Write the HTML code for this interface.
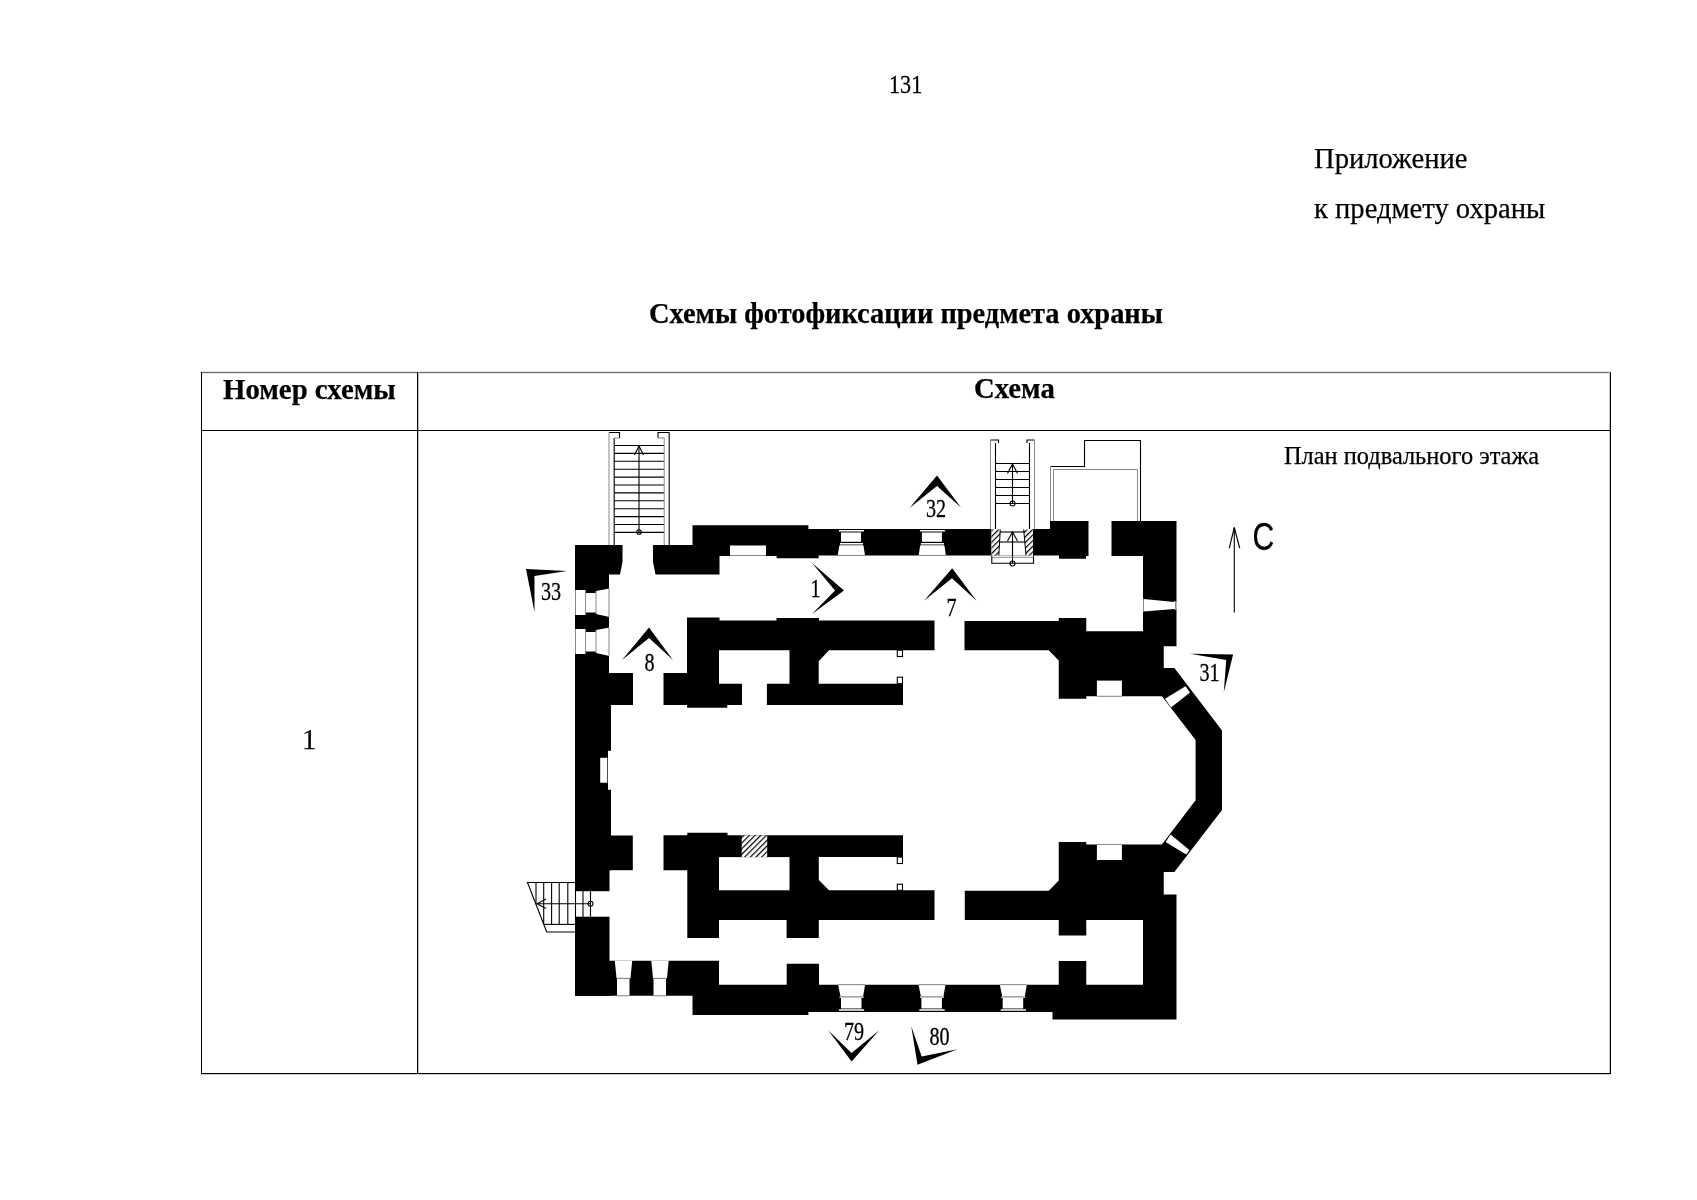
<!DOCTYPE html>
<html><head><meta charset="utf-8">
<style>
html,body{margin:0;padding:0;background:#fff;}
body{width:1697px;height:1200px;position:relative;overflow:hidden;font-family:"Liberation Serif",serif;color:#000;}
#pg{position:absolute;left:0;top:0;width:1697px;height:1200px;will-change:transform;}
.t{position:absolute;white-space:nowrap;line-height:1;-webkit-text-stroke:0.25px #000;}
</style></head><body><div id="pg">
<svg width="1697" height="1200" style="position:absolute;left:0;top:0">
<defs><pattern id="hatch" patternUnits="userSpaceOnUse" width="4" height="4" patternTransform="rotate(45)"><rect width="4" height="4" fill="#fff"/><rect x="0" y="0" width="1.2" height="4" fill="#000"/></pattern></defs>
<g shape-rendering="crispEdges">
<rect x="201" y="371" width="1410" height="1" fill="#e4e4e4"/>
<rect x="201" y="373" width="1410" height="1" fill="#e4e4e4"/>
<rect x="201" y="372" width="1410" height="1" fill="#6e6e6e"/>
<rect x="418" y="372" width="1" height="702" fill="#c0c0c0"/>
<rect x="1609" y="372" width="1" height="702" fill="#c0c0c0"/>
<rect x="201" y="1074" width="1410" height="1" fill="#d0d0d0"/>
<rect x="201" y="372" width="1" height="702" fill="#000"/>
<rect x="1610" y="372" width="1" height="702" fill="#000"/>
<rect x="201" y="1073" width="1410" height="1" fill="#000"/>
<rect x="201" y="430" width="1410" height="1" fill="#000"/>
<rect x="417" y="372" width="1" height="702" fill="#000"/>
</g>
<g fill="#000"><polygon points="575,545 622.5,545 622.5,562 620,574.5 609,574.5 609,705 611,705 611,870.2 609.5,870.2 609.5,996 575,996"/><polygon points="653,545 692.5,545 692.5,525.3 808.4,525.3 808.4,529 1050,529 1050,521 1088.5,521 1088.5,556 1086,556 1086,558.75 1059,558.75 1059,555.5 818.7,555.5 818.7,558.3 776.6,558.3 776.6,556 719.5,556 719.5,574.5 655.5,574.5 653,562"/><polygon points="1111.5,521 1176.5,521 1176.5,646.25 1163.75,646.25 1163.75,668.1 1174.4,668.1 1222,730.6 1222,810 1174.4,871.9 1163.75,871.9 1163.75,894.4 1176.5,894.4 1176.5,1019.4 1052.5,1019.4 1052.5,1011.9 808.4,1011.9 808.4,1015 692.5,1015 692.5,995.8 575,995.8 575,960.8 719,960.8 719,984.7 786.7,984.7 786.7,963.7 819,963.7 819,984.7 1058.75,984.7 1058.75,961 1086.25,961 1086.25,984.75 1143,984.75 1143,920 1086.25,920 1086.25,935.6 1058.75,935.6 1058.75,920 964.8,920 964.8,890.8 1048.75,890.8 1058.75,880.4 1058.75,841.9 1086.25,841.9 1086.25,844.4 1161.9,844.4 1195.6,800.25 1195.6,740 1161.9,696.25 1086.25,696.25 1086.25,698.75 1058.75,698.75 1058.75,660.6 1048.75,650.3 964.5,650.3 964.5,621 1058.75,621 1058.75,618.1 1086.25,618.1 1086.25,631.25 1143,631.25 1143,556 1111.5,556"/><rect x="609" y="673" width="24" height="32"/><polygon points="663.5,673 687,673 687,617.5 719.5,617.5 719.5,620.5 776.5,620.5 776.5,617.9 819,617.9 819,620.5 934.5,620.5 934.5,650.2 829,650.2 818.7,661.3 818.7,683.7 903,683.7 903,705 766.9,705 766.9,683.7 789.5,683.7 789.5,650.2 719,650.2 719,683.7 742,683.7 742,705 727.3,705 727.3,707.7 687,707.7 687,705 663.5,705"/><rect x="609" y="835.5" width="23.8" height="34.7"/><polygon points="663.5,835.3 687.3,835.3 687.3,832.8 727.5,832.8 727.5,835.3 903,835.3 903,857.1 818.8,857.1 818.8,880.1 829,890.3 934.5,890.3 934.5,920.1 818.8,920.1 818.8,938.1 786.6,938.1 786.6,920.1 719,920.1 719,938 687.3,938 687.3,870.2 663.5,870.2"/><rect x="607.5" y="750.8" width="1" height="39"/></g>
<g fill="#fff"><rect x="719" y="857.1" width="70.5" height="33.2"/><rect x="574" y="891.2" width="37" height="25.5"/><rect x="608" y="750.8" width="3.5" height="39"/><rect x="600.2" y="757.8" width="7.1" height="24.9"/><rect x="575" y="590" width="10.5" height="25"/><rect x="585.5" y="593" width="10.5" height="19.5"/><polygon points="596,591 609.5,588.5 609.5,617 596,614"/><rect x="575" y="629" width="10.5" height="25"/><rect x="585.5" y="632" width="10.5" height="19.5"/><polygon points="596,630 609.5,627.5 609.5,656 596,653"/><rect x="839" y="530" width="25" height="1.5"/><rect x="841" y="532.5" width="20" height="9.3"/><rect x="840" y="543" width="23" height="2.5"/><polygon points="839.3,545.5 863.5,545.5 865,555.4 837.7,555.4"/><rect x="919.9" y="530" width="25" height="1.5"/><rect x="921.9" y="532.5" width="20" height="9.3"/><rect x="920.9" y="543" width="23" height="2.5"/><polygon points="920.2,545.5 944.4,545.5 945.9,555.4 918.6,555.4"/><polygon points="838.1,984.7 865.1,984.7 863.1,996.3 840.5,996.3"/><rect x="839.7" y="996.3" width="23.8" height="1.7"/><rect x="841" y="998" width="20.5" height="10.5"/><rect x="839.1" y="1009" width="25" height="2"/><polygon points="918.5,984.7 945.5,984.7 943.5,996.3 920.9,996.3"/><rect x="920.1" y="996.3" width="23.8" height="1.7"/><rect x="921.4" y="998" width="20.5" height="10.5"/><rect x="919.5" y="1009" width="25" height="2"/><polygon points="999.8,984.7 1026.8,984.7 1024.8,996.3 1002.2,996.3"/><rect x="1001.4" y="996.3" width="23.8" height="1.7"/><rect x="1002.7" y="998" width="20.5" height="10.5"/><rect x="1000.8" y="1009" width="25" height="2"/><rect x="730" y="545.5" width="36" height="9.9"/><rect x="1096.9" y="680.6" width="25" height="15.65"/><rect x="1096.9" y="844.4" width="25" height="15.6"/><polygon points="1143,599 1174,602 1174,609 1143,611.5"/><rect x="1174" y="601.5" width="2.5" height="8"/><polygon points="1165,698.75 1185.5,686.25 1190,692.5 1171,707.5"/><polygon points="1165.6,841.9 1170.6,834.4 1189.4,850 1186.25,854.4"/><polygon points="614.8,960.8 632.2,960.8 630.5,978 616.5,978"/><rect x="617" y="978.5" width="12.5" height="17.3"/><polygon points="651.3,960.8 668.7,960.8 667,978 653,978"/><rect x="653.5" y="978.5" width="12.5" height="17.3"/><rect x="897.3" y="650.2" width="5.2" height="6.3"/><rect x="897.3" y="677.2" width="5.2" height="6.5"/><rect x="897.3" y="857.1" width="5.2" height="6.4"/><rect x="897.3" y="884.2" width="5.2" height="6.1"/><polygon points="991.5,529 1033,529 1033,555.5 991.5,555.5"/></g>
<rect x="741.7" y="835.3" width="25.5" height="21.8" fill="url(#hatch)" stroke="none"/><polygon points="991.5,529.5 1000.3,529.5 998.8,555.5 991.5,555.5" fill="url(#hatch)"/><polygon points="1023.7,529.5 1033,529.5 1033,555.5 1026,555.5" fill="url(#hatch)"/><g stroke="#000" stroke-width="1" fill="none"><line x1="1000.3" y1="529.5" x2="998.8" y2="555.5"/><line x1="1023.7" y1="529.5" x2="1026" y2="555.5"/></g>
<g stroke="#000" stroke-width="1.1" fill="none"><rect x="897.3" y="650.2" width="5.2" height="6.3"/><rect x="897.3" y="677.2" width="5.2" height="6.5"/><rect x="897.3" y="857.1" width="5.2" height="6.4"/><rect x="897.3" y="884.2" width="5.2" height="6.1"/><polyline points="609,432.5 619.5,432.5 619.5,438" fill="none"/><line x1="614.2" y1="438" x2="614.2" y2="545"/><line x1="669.2" y1="432.5" x2="669.2" y2="545"/><polyline points="669.2,432.5 658,432.5 658,438" fill="none"/><line x1="614.2" y1="445.5" x2="664.2" y2="445.5"/><line x1="614.2" y1="453.4" x2="664.2" y2="453.4"/><line x1="614.2" y1="461.3" x2="664.2" y2="461.3"/><line x1="614.2" y1="469.2" x2="664.2" y2="469.2"/><line x1="614.2" y1="477.1" x2="664.2" y2="477.1"/><line x1="614.2" y1="485" x2="664.2" y2="485"/><line x1="614.2" y1="492.9" x2="664.2" y2="492.9"/><line x1="614.2" y1="500.8" x2="664.2" y2="500.8"/><line x1="614.2" y1="508.7" x2="664.2" y2="508.7"/><line x1="614.2" y1="516.6" x2="664.2" y2="516.6"/><line x1="614.2" y1="524.5" x2="664.2" y2="524.5"/><line x1="614.2" y1="532.4" x2="664.2" y2="532.4"/><line x1="639" y1="446" x2="639" y2="532"/><polyline points="634.5,455 639,446 643.5,455" fill="none"/><circle cx="639" cy="532" r="2.3" fill="none"/><polyline points="990.5,440 998.5,440 998.5,443" fill="none"/><line x1="995.5" y1="443" x2="995.5" y2="529"/><polyline points="1034.5,440 1027,440 1027,443" fill="none"/><line x1="1029.5" y1="443" x2="1029.5" y2="529"/><line x1="995.5" y1="463.5" x2="1029.5" y2="463.5"/><line x1="995.5" y1="471.5" x2="1029.5" y2="471.5"/><line x1="995.5" y1="479.5" x2="1029.5" y2="479.5"/><line x1="995.5" y1="487.5" x2="1029.5" y2="487.5"/><line x1="995.5" y1="495.5" x2="1029.5" y2="495.5"/><line x1="995.5" y1="503.5" x2="1029.5" y2="503.5"/><line x1="1012.5" y1="464" x2="1012.5" y2="503.5"/><polyline points="1007.5,473.5 1012.5,464 1017.5,473.5" fill="none"/><circle cx="1012.5" cy="503.5" r="2.5" fill="none"/><line x1="999.8" y1="532" x2="1025.3" y2="532"/><line x1="999.8" y1="542" x2="1025.3" y2="542"/><line x1="1012.5" y1="532" x2="1012.5" y2="563.5"/><polyline points="1007.5,541 1012.5,532 1017.5,541" fill="none"/><polyline points="991.8,555.5 991.8,563.3 1033.5,563.3 1033.5,555.5" fill="none"/><circle cx="1012.5" cy="563.5" r="2.5" fill="none"/><polyline points="1050.5,466.5 1084.5,466.5 1084.5,440.5 1140.5,440.5 1140.5,521" fill="none"/><polyline points="574.8,882.5 527.5,882.5 546.7,932 574.8,932" fill="none"/><line x1="543.5" y1="924.4" x2="574.8" y2="924.4"/><line x1="536" y1="882.5" x2="536" y2="904.41"/><line x1="543.7" y1="882.5" x2="543.7" y2="924.27"/><line x1="551.6" y1="882.5" x2="551.6" y2="924.4"/><line x1="559.2" y1="882.5" x2="559.2" y2="924.4"/><line x1="567.8" y1="882.5" x2="567.8" y2="924.4"/><line x1="575.5" y1="882.5" x2="575.5" y2="924.4"/><line x1="583" y1="882.5" x2="583" y2="924.4"/><line x1="590.5" y1="891.2" x2="590.5" y2="916.7"/><line x1="537" y1="903.8" x2="590.5" y2="903.8"/><polyline points="546,899 537,903.8 546,908.5" fill="none"/><circle cx="590.5" cy="903.8" r="2.5" fill="none"/><line x1="1234.3" y1="527.5" x2="1234.3" y2="612.5"/><polyline points="1229.25,548.25 1234.3,527.5 1239.75,548.25" fill="none"/></g>
<g stroke="#8a8a8a" stroke-width="1" fill="none"><line x1="575.5" y1="590" x2="575.5" y2="615"/><line x1="585.5" y1="590" x2="585.5" y2="615"/><line x1="596" y1="591" x2="596" y2="614"/><line x1="609" y1="588.5" x2="609" y2="617"/><line x1="575.5" y1="629" x2="575.5" y2="654"/><line x1="585.5" y1="629" x2="585.5" y2="654"/><line x1="596" y1="630" x2="596" y2="653"/><line x1="609" y1="627.5" x2="609" y2="656"/><line x1="840.7" y1="532" x2="861.7" y2="532"/><line x1="840" y1="544.5" x2="863" y2="544.5"/><line x1="837.7" y1="555.4" x2="865" y2="555.4"/><line x1="921.6" y1="532" x2="942.6" y2="532"/><line x1="920.9" y1="544.5" x2="943.9" y2="544.5"/><line x1="918.6" y1="555.4" x2="945.9" y2="555.4"/><line x1="838.1" y1="984.7" x2="865.1" y2="984.7"/><line x1="839.7" y1="997" x2="863.5" y2="997"/><line x1="839.1" y1="1010" x2="864.1" y2="1010"/><line x1="918.5" y1="984.7" x2="945.5" y2="984.7"/><line x1="920.1" y1="997" x2="943.9" y2="997"/><line x1="919.5" y1="1010" x2="944.5" y2="1010"/><line x1="999.8" y1="984.7" x2="1026.8" y2="984.7"/><line x1="1001.4" y1="997" x2="1025.2" y2="997"/><line x1="1000.8" y1="1010" x2="1025.8" y2="1010"/><line x1="730" y1="555.5" x2="766" y2="555.5"/><line x1="1096.9" y1="696.25" x2="1121.9" y2="696.25"/><line x1="1096.9" y1="844.4" x2="1121.9" y2="844.4"/><line x1="1143.5" y1="598.5" x2="1143.5" y2="612"/><line x1="1175.5" y1="601.5" x2="1175.5" y2="609.5"/><line x1="616.5" y1="978.3" x2="630.5" y2="978.3"/><line x1="617" y1="995.8" x2="629.5" y2="995.8"/><line x1="653" y1="978.3" x2="667" y2="978.3"/><line x1="653.5" y1="995.8" x2="666" y2="995.8"/><line x1="609" y1="432.5" x2="609" y2="545"/><line x1="614.2" y1="438" x2="619.5" y2="438"/><line x1="658" y1="438" x2="664.2" y2="438"/><line x1="664.2" y1="438" x2="664.2" y2="545"/><line x1="990.5" y1="440" x2="990.5" y2="529"/><line x1="1034.5" y1="440" x2="1034.5" y2="529"/><line x1="991.8" y1="557.3" x2="1033.5" y2="557.3"/><line x1="1050.5" y1="466.5" x2="1050.5" y2="521"/><polyline points="1053.5,521 1053.5,469.5 1137.5,469.5 1137.5,521" fill="none"/></g>
<g fill="#000"><polygon points="526,569 567,571 534.5,576 534.5,612"/><polygon points="622,660 649,627.5 673,660 649,638"/><polygon points="812,563 844,590.5 812,614 835,590.5"/><polygon points="924,600.8 952.2,568.2 976.5,600.8 952,578.3"/><polygon points="909.5,508 937,475.5 961,507.5 937,486"/><polygon points="1190,653.75 1233.1,654.4 1223.75,692.5 1226.25,660"/><polygon points="828.2,1030.3 851.6,1061.5 879.2,1030.3 851.6,1053"/><polygon points="911.25,1026.25 917.5,1064.8 957.5,1049.2 921.7,1056.5"/></g>
<text x="0" y="0" transform="translate(541,599.8) scale(0.79,1)" font-family="Liberation Serif" font-size="25.5" stroke="#000" stroke-width="0.3">33</text>
<text x="0" y="0" transform="translate(644.5,670.8) scale(0.79,1)" font-family="Liberation Serif" font-size="25.5" stroke="#000" stroke-width="0.3">8</text>
<text x="0" y="0" transform="translate(810.5,596.8) scale(0.79,1)" font-family="Liberation Serif" font-size="25.5" stroke="#000" stroke-width="0.3">1</text>
<text x="0" y="0" transform="translate(946.5,615.8) scale(0.79,1)" font-family="Liberation Serif" font-size="25.5" stroke="#000" stroke-width="0.3">7</text>
<text x="0" y="0" transform="translate(926,516.8) scale(0.79,1)" font-family="Liberation Serif" font-size="25.5" stroke="#000" stroke-width="0.3">32</text>
<text x="0" y="0" transform="translate(1199.5,680.8) scale(0.79,1)" font-family="Liberation Serif" font-size="25.5" stroke="#000" stroke-width="0.3">31</text>
<text x="0" y="0" transform="translate(844,1039.8) scale(0.79,1)" font-family="Liberation Serif" font-size="25.5" stroke="#000" stroke-width="0.3">79</text>
<text x="0" y="0" transform="translate(929.5,1044.8) scale(0.79,1)" font-family="Liberation Serif" font-size="25.5" stroke="#000" stroke-width="0.3">80</text>
<text x="0" y="0" transform="translate(1252.5,549.5) scale(0.78,1)" font-family="Liberation Sans" font-size="38.5" stroke="#000" stroke-width="0.3">C</text>
</svg>
<div class="t" style="left:889px;top:72.5px;font-size:22.2px;transform:scaleY(1.12);transform-origin:0 0;">131</div>
<div class="t" style="left:1314px;top:145px;font-size:28.6px;">Приложение</div>
<div class="t" style="left:1314px;top:195px;font-size:28.6px;">к предмету охраны</div>
<div class="t" style="left:649px;top:299.5px;font-size:28.4px;font-weight:bold;">Схемы фотофиксации предмета охраны</div>
<div class="t" style="left:223px;top:374.5px;font-size:28.8px;font-weight:bold;">Номер схемы</div>
<div class="t" style="left:974px;top:374px;font-size:28.7px;font-weight:bold;">Схема</div>
<div class="t" style="left:302px;top:724.5px;font-size:29px;">1</div>
<div class="t" style="left:1284px;top:444px;font-size:24.4px;">План подвального этажа</div>
</div></body></html>
